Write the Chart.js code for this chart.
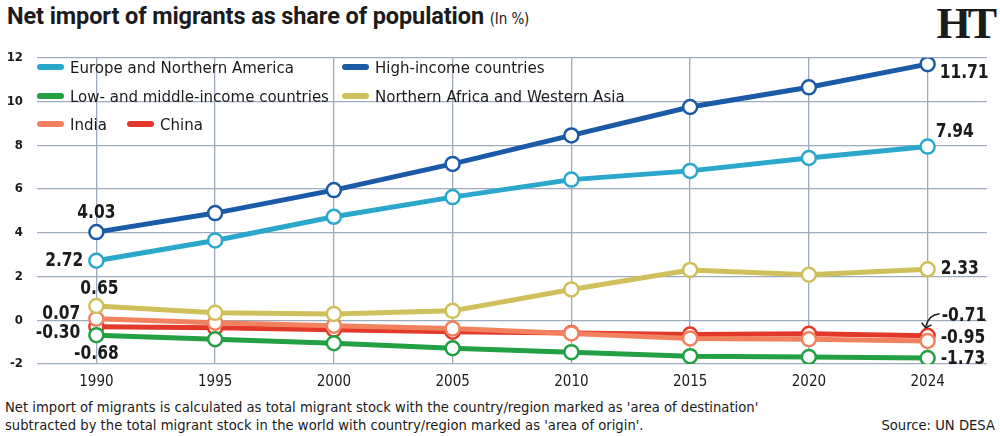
<!DOCTYPE html>
<html>
<head>
<meta charset="utf-8">
<script src="https://cdn.jsdelivr.net/npm/chart.js@4.4.0/dist/chart.umd.min.js"></script>
<style>
  body { margin: 0; width: 1000px; height: 436px; background: #fff; position: relative; overflow: hidden;
         font-family: "DejaVu Sans Condensed", "DejaVu Sans", sans-serif; color: #1b1b1b; }
  .title { position: absolute; left: 7px; top: 2px; font-family: Roboto, sans-serif; font-weight: 700; font-size: 23.5px; white-space: nowrap; letter-spacing: -0.1px; }
  .title small { font-family: "DejaVu Sans Condensed", sans-serif; font-weight: 400; font-size: 15px; }
  .logo { position: absolute; right: 6px; top: -2px; font-family: "Liberation Serif", serif; font-weight: 700; font-size: 44px; letter-spacing: -3px; }
  .chart-box { position: absolute; left: 0; top: 36px; width: 1000px; height: 362px; }
  .legend { position: absolute; left: 0; top: 0; width: 1000px; height: 140px; pointer-events: none; }
  .legend-item { position: absolute; display: flex; align-items: center; font-size: 16.7px; white-space: nowrap; }
  .legend-item i { display: inline-block; width: 27px; height: 6px; border-radius: 3px; margin-right: 6px; }
  .note { position: absolute; left: 5px; top: 398px; font-size: 14.65px; line-height: 18px; white-space: nowrap; }
  .source { position: absolute; right: 5px; top: 416px; font-size: 14.65px; line-height: 18px; }
</style>
</head>
<body>
  <div class="title">Net import of migrants as share of population <small>(In %)</small></div>
  <div class="logo">HT</div>
  <div class="chart-box"><canvas id="migrants"></canvas></div>
  <div class="legend" id="legend"></div>
  <div class="note">Net import of migrants is calculated as total migrant stock with the country/region marked as 'area of destination'<br>subtracted by the total migrant stock in the world with country/region marked as 'area of origin'.</div>
  <div class="source">Source: UN DESA</div>

<script>
// Data
const years = ['1990', '1995', '2000', '2005', '2010', '2015', '2020', '2024'];
const europeNA = [2.72, 3.65, 4.73, 5.63, 6.43, 6.83, 7.42, 7.94];
const highIncome = [4.03, 4.90, 5.95, 7.15, 8.45, 9.75, 10.65, 11.71];
const lowMiddle = [-0.68, -0.87, -1.05, -1.28, -1.46, -1.64, -1.68, -1.73];
const nAfricaWAsia = [0.65, 0.34, 0.29, 0.43, 1.41, 2.30, 2.08, 2.33];
const india = [0.07, -0.11, -0.25, -0.38, -0.60, -0.83, -0.87, -0.95];
const china = [-0.30, -0.34, -0.43, -0.52, -0.58, -0.65, -0.62, -0.71];
const yTicks = [-2, 0, 2, 4, 6, 8, 10, 12];

const series = [
  { label: 'Europe and Northern America', data: europeNA, color: '#2aa7cb' },
  { label: 'High-income countries', data: highIncome, color: '#1b5aa7' },
  { label: 'Low- and middle-income countries', data: lowMiddle, color: '#22a043' },
  { label: 'Northern Africa and Western Asia', data: nAfricaWAsia, color: '#cfc05b' },
  { label: 'India', data: india, color: '#f2825f' },
  { label: 'China', data: china, color: '#e2392a' }
];

// Legend placement (two columns inside the plot)
const legendSpots = [
  { left: 37, top: 57 }, { left: 342, top: 57 },
  { left: 37, top: 86 }, { left: 342, top: 86 },
  { left: 37, top: 114 }, { left: 127, top: 114 }
];
const legend = document.getElementById('legend');
series.forEach((s, k) => {
  const el = document.createElement('div');
  el.className = 'legend-item';
  el.style.left = legendSpots[k].left + 'px';
  el.style.top = legendSpots[k].top + 'px';
  el.innerHTML = `<i style="background:${s.color}"></i>${s.label}`;
  legend.appendChild(el);
});

// Value labels at the ends of lines
const labelSpots = [
  { ds: 1, i: 0, dx: 0, dy: -19, align: 'center' },
  { ds: 0, i: 0, dx: -13, dy: 0, align: 'right' },
  { ds: 3, i: 0, dx: 3, dy: -17, align: 'center' },
  { ds: 4, i: 0, dx: -16, dy: -5, align: 'right' },
  { ds: 5, i: 0, dx: -16, dy: 6, align: 'right' },
  { ds: 2, i: 0, dx: 0, dy: 19, align: 'center' },
  { ds: 1, i: 7, dx: 12, dy: 9, align: 'left' },
  { ds: 0, i: 7, dx: 8, dy: -15, align: 'left' },
  { ds: 3, i: 7, dx: 13, dy: 0, align: 'left' },
  { ds: 5, i: 7, dx: 14, dy: -20, align: 'left', arrow: true },
  { ds: 4, i: 7, dx: 13, dy: -3, align: 'left' },
  { ds: 2, i: 7, dx: 13, dy: 1, align: 'left' }
];

const valueLabels = {
  id: 'valueLabels',
  afterDatasetsDraw(chart) {
    const ctx = chart.ctx;
    labelSpots.forEach(spot => {
      const pt = chart.getDatasetMeta(spot.ds).data[spot.i];
      const value = chart.data.datasets[spot.ds].data[spot.i];
      const tx = pt.x + spot.dx, ty = pt.y + spot.dy;
      ctx.save();
      ctx.font = 'bold 20px "DejaVu Sans Condensed", sans-serif';
      ctx.fillStyle = '#1b1b1b';
      ctx.textBaseline = 'middle';
      ctx.textAlign = spot.align;
      ctx.translate(tx, ty);
      ctx.scale(0.86, 1);
      ctx.fillText(value.toFixed(2), 0, 0);
      ctx.restore();
      if (spot.arrow) {
        ctx.save();
        ctx.strokeStyle = '#1b1b1b';
        ctx.lineWidth = 1.4;
        ctx.beginPath();
        ctx.moveTo(tx - 2, ty - 2);
        ctx.quadraticCurveTo(pt.x + 1, ty - 1, pt.x - 2, pt.y - 9);
        ctx.stroke();
        ctx.beginPath();
        ctx.moveTo(pt.x - 6, pt.y - 13);
        ctx.lineTo(pt.x - 2, pt.y - 8);
        ctx.lineTo(pt.x + 4, pt.y - 11);
        ctx.stroke();
        ctx.restore();
      }
    });
  }
};

new Chart(document.getElementById('migrants'), {
  type: 'line',
  data: {
    labels: years,
    datasets: series.map(s => ({
      label: s.label,
      data: s.data,
      borderColor: s.color,
      borderWidth: 5,
      pointRadius: 7,
      pointBorderWidth: 2.5,
      pointBackgroundColor: '#fff',
      pointBorderColor: s.color,
      tension: 0
    }))
  },
  options: {
    responsive: true,
    maintainAspectRatio: false,
    animation: false,
    layout: { padding: { top: 14, right: 13, left: 0, bottom: 0 } },
    plugins: { legend: { display: false }, tooltip: { enabled: false } },
    scales: {
      x: {
        offset: true,
        grid: { color: '#9eabbb', lineWidth: 1.3, drawTicks: false, offset: false },
        border: { display: false },
        ticks: { color: '#1b1b1b', padding: 9, font: { family: '"DejaVu Sans Condensed", sans-serif', size: 15 } },
        afterFit(scale) { scale.height = 34; }
      },
      y: {
        min: -2, max: 12,
        afterBuildTicks(scale) { scale.ticks = yTicks.map(v => ({ value: v })); },
        grid: { color: '#9eabbb', lineWidth: 1.3, drawTicks: false },
        border: { display: false },
        ticks: { color: '#1b1b1b', padding: 14, font: { family: '"DejaVu Sans Condensed", sans-serif', size: 13, weight: 'bold' } },
        afterFit(scale) { scale.width = 37; }
      }
    }
  },
  plugins: [valueLabels]
});
</script>
</body>
</html>
